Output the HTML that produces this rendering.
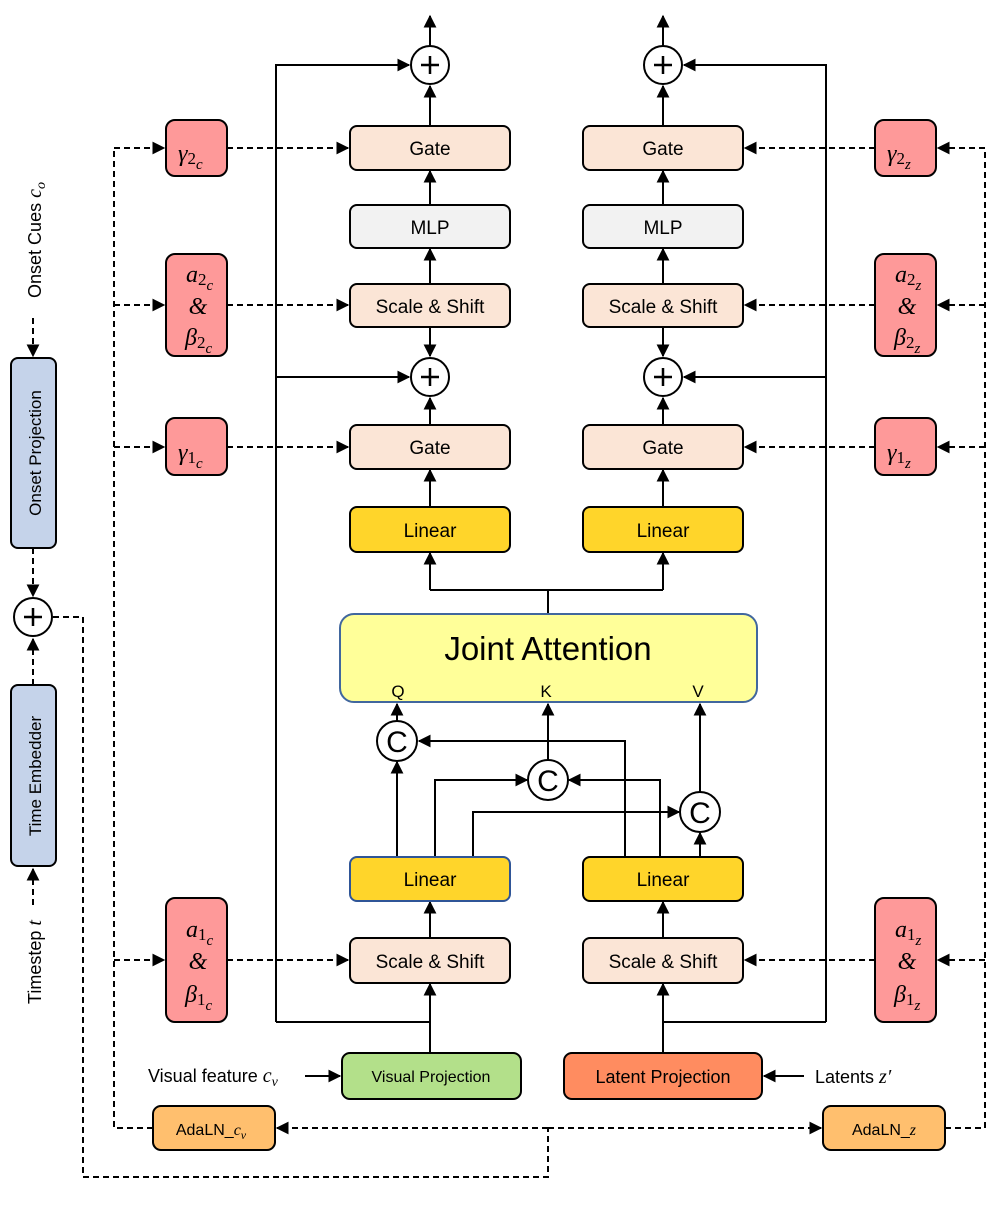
<!DOCTYPE html>
<html><head><meta charset="utf-8"><style>
html,body{margin:0;padding:0;background:#fff}
svg{display:block}
text{font-family:"Liberation Sans",sans-serif;fill:#000}
.m{font-family:"Liberation Serif",serif;font-style:italic}
</style></head><body>
<svg width="997" height="1212" viewBox="0 0 997 1212" xmlns="http://www.w3.org/2000/svg">
<defs>
<marker id="a" viewBox="0 0 10 10" refX="9" refY="5" markerWidth="6.5" markerHeight="6.5" orient="auto"><path d="M0,0L10,5L0,10z" fill="#000"/></marker>
</defs>
<g stroke="#000" stroke-width="2" fill="none">
<path d="M276,1022V65H409" marker-end="url(#a)"/>
<path d="M276,377H409" marker-end="url(#a)"/>
<path d="M276,1022H430"/>
<path d="M826,1022V65H684" marker-end="url(#a)"/>
<path d="M826,377H684" marker-end="url(#a)"/>
<path d="M663,1022H826"/>
<path d="M430,46V16" marker-end="url(#a)"/>
<path d="M663,46V16" marker-end="url(#a)"/>
<path d="M430,126V86" marker-end="url(#a)"/>
<path d="M663,126V86" marker-end="url(#a)"/>
<path d="M430,205V171" marker-end="url(#a)"/>
<path d="M663,205V171" marker-end="url(#a)"/>
<path d="M430,284V249" marker-end="url(#a)"/>
<path d="M663,284V249" marker-end="url(#a)"/>
<path d="M430,327V356" marker-end="url(#a)"/>
<path d="M663,327V356" marker-end="url(#a)"/>
<path d="M430,425V398" marker-end="url(#a)"/>
<path d="M663,425V398" marker-end="url(#a)"/>
<path d="M430,507V470" marker-end="url(#a)"/>
<path d="M663,507V470" marker-end="url(#a)"/>
<path d="M548,614V590"/>
<path d="M430,590H663"/>
<path d="M430,590V553" marker-end="url(#a)"/>
<path d="M663,590V553" marker-end="url(#a)"/>
<path d="M397,721V704" marker-end="url(#a)"/>
<path d="M548,760V704" marker-end="url(#a)"/>
<path d="M700,792V704" marker-end="url(#a)"/>
<path d="M397,857V762" marker-end="url(#a)"/>
<path d="M625,857V741H419" marker-end="url(#a)"/>
<path d="M435,857V780H527" marker-end="url(#a)"/>
<path d="M660,857V780H569" marker-end="url(#a)"/>
<path d="M473,857V812H679" marker-end="url(#a)"/>
<path d="M700,857V833" marker-end="url(#a)"/>
<path d="M430,938V902" marker-end="url(#a)"/>
<path d="M663,938V902" marker-end="url(#a)"/>
<path d="M430,1053V984" marker-end="url(#a)"/>
<path d="M663,1053V984" marker-end="url(#a)"/>
<path d="M305,1076H340" marker-end="url(#a)"/>
<path d="M804,1076H764" marker-end="url(#a)"/>
</g>
<g stroke="#000" stroke-width="2" fill="none" stroke-dasharray="6,4">
<path d="M33,318V356" marker-end="url(#a)"/>
<path d="M33,548V596" marker-end="url(#a)"/>
<path d="M33,685V639" marker-end="url(#a)"/>
<path d="M33,905V869" marker-end="url(#a)"/>
<path d="M53,617H83V1177H548V1128"/>
<path d="M153,1128H114V148"/>
<path d="M114,148H164" marker-end="url(#a)"/>
<path d="M114,305H164" marker-end="url(#a)"/>
<path d="M114,447H164" marker-end="url(#a)"/>
<path d="M114,960H164" marker-end="url(#a)"/>
<path d="M227,148H348" marker-end="url(#a)"/>
<path d="M227,305H348" marker-end="url(#a)"/>
<path d="M227,447H348" marker-end="url(#a)"/>
<path d="M227,960H348" marker-end="url(#a)"/>
<path d="M548,1128H277" marker-end="url(#a)"/>
<path d="M548,1128H821" marker-end="url(#a)"/>
<path d="M945,1128H985V148"/>
<path d="M985,148H938" marker-end="url(#a)"/>
<path d="M985,305H938" marker-end="url(#a)"/>
<path d="M985,447H938" marker-end="url(#a)"/>
<path d="M985,960H938" marker-end="url(#a)"/>
<path d="M875,148H745" marker-end="url(#a)"/>
<path d="M875,305H745" marker-end="url(#a)"/>
<path d="M875,447H745" marker-end="url(#a)"/>
<path d="M875,960H745" marker-end="url(#a)"/>
</g>
<g stroke="#000" stroke-width="2">
<rect x="11" y="358" width="45" height="190" rx="7" fill="#c5d3ea"/>
<rect x="11" y="685" width="45" height="181" rx="7" fill="#c5d3ea"/>
<circle cx="33" cy="617" r="19" fill="#fff"/>
<rect x="166" y="120" width="61" height="56" rx="9" fill="#fe9999"/>
<rect x="166" y="254" width="61" height="102" rx="9" fill="#fe9999"/>
<rect x="166" y="418" width="61" height="57" rx="9" fill="#fe9999"/>
<rect x="166" y="898" width="61" height="124" rx="9" fill="#fe9999"/>
<rect x="875" y="120" width="61" height="56" rx="9" fill="#fe9999"/>
<rect x="875" y="254" width="61" height="102" rx="9" fill="#fe9999"/>
<rect x="875" y="418" width="61" height="57" rx="9" fill="#fe9999"/>
<rect x="875" y="898" width="61" height="124" rx="9" fill="#fe9999"/>
<rect x="350" y="126" width="160" height="44" rx="7" fill="#fbe5d6"/>
<rect x="583" y="126" width="160" height="44" rx="7" fill="#fbe5d6"/>
<rect x="350" y="205" width="160" height="43" rx="7" fill="#f2f2f2"/>
<rect x="583" y="205" width="160" height="43" rx="7" fill="#f2f2f2"/>
<rect x="350" y="284" width="160" height="43" rx="7" fill="#fbe5d6"/>
<rect x="583" y="284" width="160" height="43" rx="7" fill="#fbe5d6"/>
<rect x="350" y="425" width="160" height="44" rx="7" fill="#fbe5d6"/>
<rect x="583" y="425" width="160" height="44" rx="7" fill="#fbe5d6"/>
<rect x="350" y="507" width="160" height="45" rx="7" fill="#ffd52a"/>
<rect x="583" y="507" width="160" height="45" rx="7" fill="#ffd52a"/>
<rect x="350" y="857" width="160" height="44" rx="7" fill="#ffd52a" stroke="#2f5597"/>
<rect x="583" y="857" width="160" height="44" rx="7" fill="#ffd52a"/>
<rect x="350" y="938" width="160" height="45" rx="7" fill="#fbe5d6"/>
<rect x="583" y="938" width="160" height="45" rx="7" fill="#fbe5d6"/>
<rect x="340" y="614" width="417" height="88" rx="14" fill="#ffff99" stroke="#41679e"/>
<rect x="342" y="1053" width="179" height="46" rx="8" fill="#b3e08a"/>
<rect x="564" y="1053" width="198" height="46" rx="8" fill="#ff8c60"/>
<rect x="153" y="1106" width="122" height="44" rx="8" fill="#ffbf6e"/>
<rect x="823" y="1106" width="122" height="44" rx="8" fill="#ffbf6e"/>
<circle cx="430" cy="65" r="19" fill="#fff"/>
<circle cx="663" cy="65" r="19" fill="#fff"/>
<circle cx="430" cy="377" r="19" fill="#fff"/>
<circle cx="663" cy="377" r="19" fill="#fff"/>
<circle cx="397" cy="741" r="20" fill="#fff"/>
<circle cx="548" cy="780" r="20" fill="#fff"/>
<circle cx="700" cy="812" r="20" fill="#fff"/>
</g>
<g stroke="#000" stroke-width="2.5">
<path d="M24,617H42M33,608V626"/>
<path d="M421,65H439M430,56V74"/>
<path d="M654,65H672M663,56V74"/>
<path d="M421,377H439M430,368V386"/>
<path d="M654,377H672M663,368V386"/>
</g>
<g font-size="30" text-anchor="middle">
<text x="397" y="752">C</text><text x="548" y="791">C</text><text x="700" y="823">C</text>
</g>
<g font-size="19" text-anchor="middle">
<text x="430" y="155">Gate</text><text x="663" y="155">Gate</text>
<text x="430" y="234">MLP</text><text x="663" y="234">MLP</text>
<text x="430" y="313">Scale &amp; Shift</text><text x="663" y="313">Scale &amp; Shift</text>
<text x="430" y="454">Gate</text><text x="663" y="454">Gate</text>
<text x="430" y="537">Linear</text><text x="663" y="537">Linear</text>
<text x="430" y="886">Linear</text><text x="663" y="886">Linear</text>
<text x="430" y="968">Scale &amp; Shift</text><text x="663" y="968">Scale &amp; Shift</text>
</g>
<text x="548" y="660" font-size="33" text-anchor="middle">Joint Attention</text>
<g font-size="17" text-anchor="middle">
<text x="398" y="697">Q</text><text x="546" y="697">K</text><text x="698" y="697">V</text>
<text x="431" y="1082" font-size="16">Visual Projection</text>
<text x="663" y="1083" font-size="18">Latent Projection</text>
<text x="211" y="1135" font-size="16">AdaLN_<tspan class="m">c</tspan><tspan class="m" font-size="12" dy="4">v</tspan></text>
<text x="884" y="1135" font-size="16">AdaLN_<tspan class="m">z</tspan></text>
</g>
<text x="148" y="1082" font-size="18">Visual feature <tspan class="m" font-size="20">c</tspan><tspan class="m" font-size="14" dy="4">v</tspan></text>
<text x="815" y="1083" font-size="18">Latents <tspan class="m" font-size="20">z′</tspan></text>
<g font-size="17">
<text transform="translate(41,453) rotate(-90)" text-anchor="middle">Onset Projection</text>
<text transform="translate(41,776) rotate(-90)" text-anchor="middle">Time Embedder</text>
<text transform="translate(41,240) rotate(-90)" text-anchor="middle" font-size="18">Onset Cues <tspan class="m" font-size="20">c</tspan><tspan class="m" font-size="14" dy="4">o</tspan></text>
<text transform="translate(41,962) rotate(-90)" text-anchor="middle" font-size="18">Timestep <tspan class="m" font-size="20">t</tspan></text>
</g>
<g class="m" font-size="24">
<text x="178" y="161" class="m">γ<tspan font-size="17" dy="3" font-style="normal">2</tspan><tspan font-size="15" dy="5">c</tspan></text>
<text x="178" y="460" class="m">γ<tspan font-size="17" dy="3" font-style="normal">1</tspan><tspan font-size="15" dy="5">c</tspan></text>
<text x="887" y="161" class="m">γ<tspan font-size="17" dy="3" font-style="normal">2</tspan><tspan font-size="15" dy="5">z</tspan></text>
<text x="887" y="460" class="m">γ<tspan font-size="17" dy="3" font-style="normal">1</tspan><tspan font-size="15" dy="5">z</tspan></text>
<text x="186" y="282" class="m">a<tspan font-size="17" dy="3" font-style="normal">2</tspan><tspan font-size="15" dy="5">c</tspan></text>
<text x="198" y="314" class="m" text-anchor="middle">&amp;</text>
<text x="185" y="345" class="m">β<tspan font-size="17" dy="3" font-style="normal">2</tspan><tspan font-size="15" dy="5">c</tspan></text>
<text x="895" y="282" class="m">a<tspan font-size="17" dy="3" font-style="normal">2</tspan><tspan font-size="15" dy="5">z</tspan></text>
<text x="907" y="314" class="m" text-anchor="middle">&amp;</text>
<text x="894" y="345" class="m">β<tspan font-size="17" dy="3" font-style="normal">2</tspan><tspan font-size="15" dy="5">z</tspan></text>
<text x="186" y="937" class="m">a<tspan font-size="17" dy="3" font-style="normal">1</tspan><tspan font-size="15" dy="5">c</tspan></text>
<text x="198" y="969" class="m" text-anchor="middle">&amp;</text>
<text x="185" y="1002" class="m">β<tspan font-size="17" dy="3" font-style="normal">1</tspan><tspan font-size="15" dy="5">c</tspan></text>
<text x="895" y="937" class="m">a<tspan font-size="17" dy="3" font-style="normal">1</tspan><tspan font-size="15" dy="5">z</tspan></text>
<text x="907" y="969" class="m" text-anchor="middle">&amp;</text>
<text x="894" y="1002" class="m">β<tspan font-size="17" dy="3" font-style="normal">1</tspan><tspan font-size="15" dy="5">z</tspan></text>
</g>
</svg>
</body></html>
